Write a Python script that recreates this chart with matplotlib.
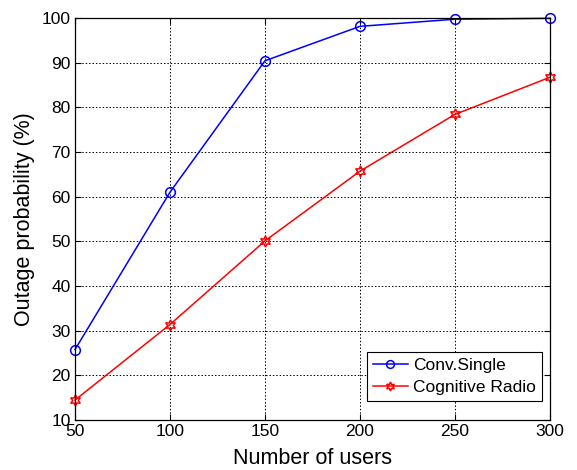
import matplotlib
matplotlib.use("Agg")
import matplotlib.pyplot as plt

plt.rcParams['font.family'] = ['Liberation Sans', 'DejaVu Sans']

# Data
users = [50, 100, 150, 200, 250, 300]
conv_single = [25.8, 61.0, 90.4, 98.1, 99.7, 99.9]
cognitive_radio = [14.5, 31.4, 50.1, 65.7, 78.4, 86.7]

fig = plt.figure(figsize=(5.77, 4.70), dpi=100)
ax = fig.add_axes([0.13, 0.106, 0.823, 0.856])

ax.plot(users, conv_single, color='blue', marker='o', markersize=7,
        markerfacecolor='none', markeredgewidth=1.1, linewidth=1.1,
        label='Conv.Single', clip_on=False)
ax.plot(users, cognitive_radio, color='red', marker=(6, 1, 0), markersize=8,
        markerfacecolor='none', markeredgewidth=1.1, linewidth=1.1,
        label='Cognitive Radio', clip_on=False)

ax.set_xlim(50, 300)
ax.set_ylim(10, 100)
ax.set_xticks(users)
ax.set_yticks(range(10, 101, 10))

ax.grid(True, color='black', linestyle=(0, (1.5, 2)), linewidth=0.7)
ax.tick_params(direction='in', top=True, right=True, labelsize=12.5, length=4, pad=3)
for s in ax.spines.values():
    s.set_linewidth(0.9)

ax.set_xlabel("Number of users", fontsize=15.5, labelpad=6)
ax.set_ylabel("Outage probability (%)", fontsize=15.5, labelpad=5)

leg = ax.legend(loc='lower right', bbox_to_anchor=(0.983, 0.047), fontsize=12.5,
                fancybox=False, framealpha=1, edgecolor='black', borderpad=0.35,
                handlelength=2.0, handletextpad=0.3, labelspacing=0.4,
                borderaxespad=0, markerscale=0.8)
leg.get_frame().set_linewidth(0.8)

fig.savefig("out.png", dpi=100)
